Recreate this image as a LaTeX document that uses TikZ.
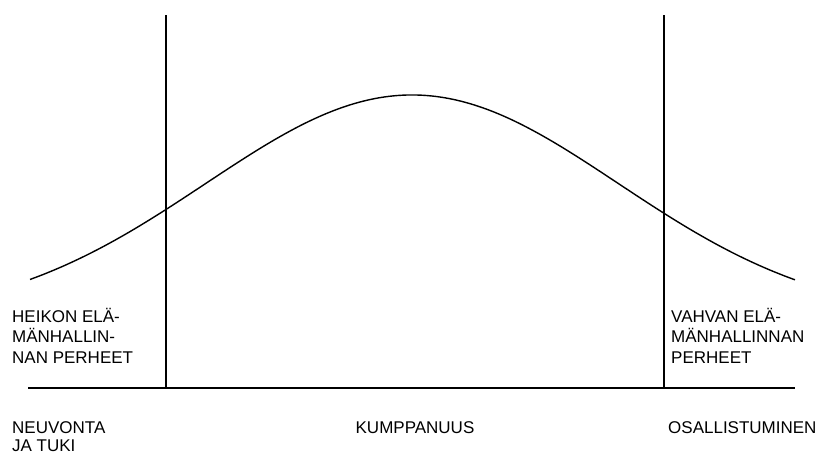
\documentclass[tikz,border=0pt]{standalone}
\usepackage{fontspec}
\setmainfont{Liberation Sans}
\usetikzlibrary{positioning}
\tikzset{
  fx/.style={x=1pt, y=-1pt},
  g axis/.style={draw, line width=1.6pt},
  g curve/.style={draw, line width=1.4pt, smooth},
  g lbl/.style={font=\fontsize{17}{20.5}\selectfont, align=left, inner sep=0pt},
}

\begin{document}
\begin{tikzpicture}[fx]
\useasboundingbox (0,0) rectangle (819,455);
\coordinate (a0) at (28,388); \coordinate (a1) at (795,388);
\coordinate (l0) at (166,15); \coordinate (l1) at (166,388);
\coordinate (r0) at (664,15); \coordinate (r1) at (664,388);
\draw[g axis] (a0) -- (a1);
\draw[g axis] (l0) -- (l1); \draw[g axis] (r0) -- (r1);
\draw[g curve] plot[domain=30:795, samples=120] (\x, {320-225*exp(-((\x-412)/100)^2/8.5128)});
\node[g lbl, anchor=north west] (weak) at (12,308) {HEIKON ELÄ-\\MÄNHALLIN-\\NAN PERHEET};
\node[g lbl, anchor=north west] (strong) at (671,308) {VAHVAN ELÄ-\\MÄNHALLINNAN\\PERHEET};
\node[g lbl, anchor=north west, font=\fontsize{17}{18.5}\selectfont] (advice) at (12,421) {NEUVONTA\\JA TUKI};
\node[g lbl, anchor=north] (partner) at (415,421) {KUMPPANUUS};
\node[g lbl, anchor=north west] (partic) at (668,421) {OSALLISTUMINEN};
\end{tikzpicture}
\end{document}
